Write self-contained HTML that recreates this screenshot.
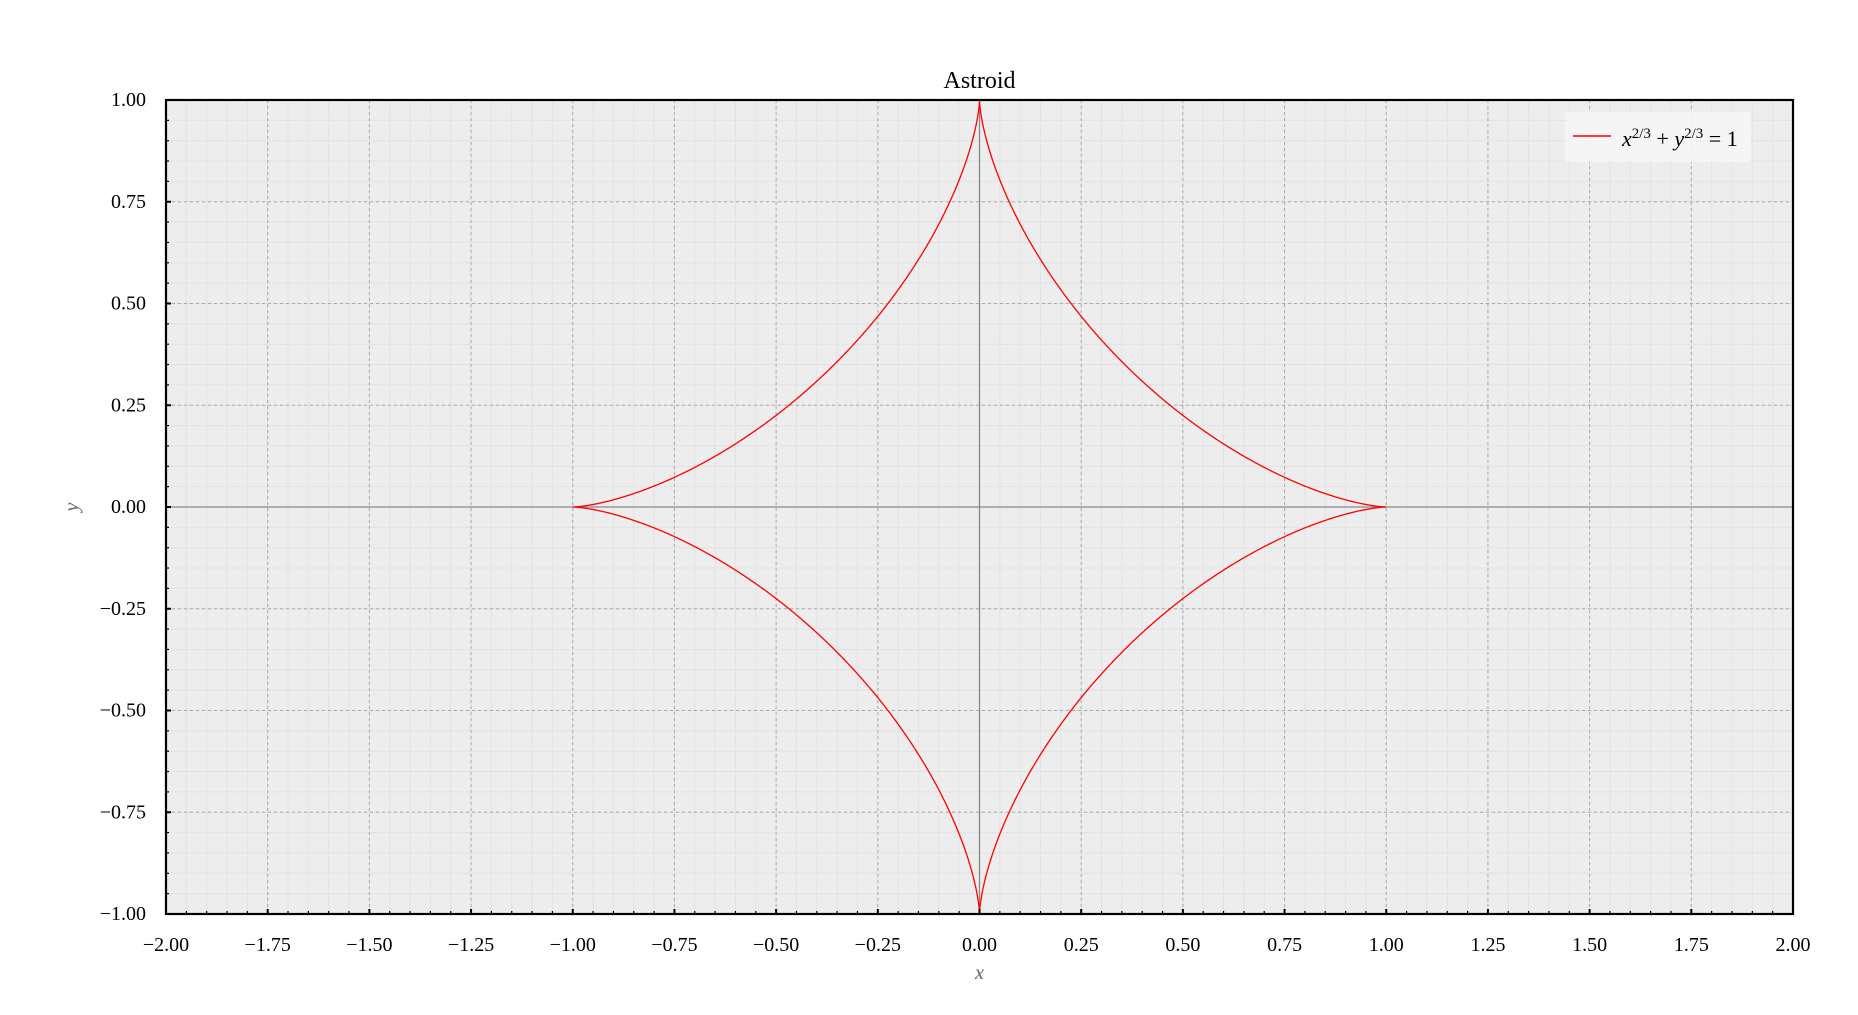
<!DOCTYPE html>
<html><head><meta charset="utf-8"><style>
html,body{margin:0;padding:0;background:#fff;}
svg{display:block;font-family:"Liberation Serif",serif;}
</style></head><body>
<svg id="chart" width="1858" height="1015" viewBox="0 0 1858 1015" xmlns="http://www.w3.org/2000/svg"></svg>
<script>
const xTicks = [-2.00,-1.75,-1.50,-1.25,-1.00,-0.75,-0.50,-0.25,0.00,0.25,0.50,0.75,1.00,1.25,1.50,1.75,2.00];
const yTicks = [-1.00,-0.75,-0.50,-0.25,0.00,0.25,0.50,0.75,1.00];
const xDomain = [-2, 2];
const yDomain = [-1, 1];
const astroidA = [1];
const legendLabels = ["x^{2/3}+y^{2/3}=1"];

const L=166,R=1793,T=100,B=914;
const NS="http://www.w3.org/2000/svg";
const svg=document.getElementById('chart');
function sx(v){return L+(v-xDomain[0])/(xDomain[1]-xDomain[0])*(R-L);}
function sy(v){return B-(v-yDomain[0])/(yDomain[1]-yDomain[0])*(B-T);}
function mk(tag,attrs,parent){const e=document.createElementNS(NS,tag);for(const k in attrs)e.setAttribute(k,attrs[k]);(parent||svg).appendChild(e);return e;}
function fmt(v){return (v<0?'\u2212':'')+Math.abs(v).toFixed(2);}

const bg=mk('rect',{x:L,y:T,width:R-L,height:B-T,fill:'#ededed'});



const gMinor=mk('g',{stroke:'#e2e2e2','stroke-width':1});


for(let i=0;i<=80;i++){const v=xDomain[0]+i*0.05;const x=sx(v);mk('line',{x1:x,x2:x,y1:T,y2:B},gMinor);}
for(let i=0;i<=40;i++){const v=yDomain[0]+i*0.05;const y=sy(v);mk('line',{x1:L,x2:R,y1:y,y2:y},gMinor);}
const gMajor=mk('g',{stroke:'#aaaaaa','stroke-width':1,'stroke-dasharray':'3,3'});


xTicks.forEach(v=>{const x=sx(v);mk('line',{x1:x,x2:x,y1:T,y2:B},gMajor);});
yTicks.forEach(v=>{const y=sy(v);mk('line',{x1:L,x2:R,y1:y,y2:y},gMajor);});
const zx=mk('line',{x1:sx(0),x2:sx(0),y1:T,y2:B,stroke:'#888','stroke-width':1.3});


const zy=mk('line',{x1:L,x2:R,y1:sy(0),y2:sy(0),stroke:'#888','stroke-width':1.3});



const a=astroidA[0];
let d='';
for(let i=0;i<=2000;i++){const t=i/2000*2*Math.PI;const c=Math.cos(t),s=Math.sin(t);
  const x=a*c*c*c,y=a*s*s*s;d+=(i?'L':'M')+sx(x).toFixed(2)+','+sy(y).toFixed(2);}
const curve=mk('path',{d:d,fill:'none',stroke:'#ff0000','stroke-width':1.3});



const frame=mk('rect',{x:L,y:T,width:R-L,height:B-T,fill:'none',stroke:'#000','stroke-width':2.2});



const gT=mk('g',{stroke:'#000'});


for(let i=0;i<=80;i++){const x=sx(xDomain[0]+i*0.05);const maj=i%5==0;mk('line',{x1:x,x2:x,y1:B,y2:B-(maj?5:3),'stroke-width':maj?2:1.2},gT);}
for(let i=0;i<=40;i++){const y=sy(yDomain[0]+i*0.05);const maj=i%5==0;mk('line',{x1:L,x2:L+(maj?5:3),y1:y,y2:y,'stroke-width':maj?2:1.2},gT);}

xTicks.forEach(v=>{const t=mk('text',{x:sx(v),y:951,'font-size':20,'text-anchor':'middle',fill:'#000'});t.textContent=fmt(v);
  
  });
yTicks.forEach(v=>{const t=mk('text',{x:146,y:sy(v)+6,'font-size':20,'text-anchor':'end',fill:'#000'});t.textContent=fmt(v);
  
  });

const title=mk('text',{x:sx(0),y:88,'font-size':24,'text-anchor':'middle',fill:'#000'});title.textContent='Astroid';


const xl=mk('text',{x:sx(0),y:979,'font-size':20,'font-style':'italic','text-anchor':'middle',fill:'#666'});xl.textContent='x';


const yl=mk('text',{x:0,y:0,'font-size':20,'font-style':'italic','text-anchor':'middle',fill:'#666',transform:'translate(78,507) rotate(-90)'});yl.textContent='y';



const lg=mk('g',{});


mk('rect',{x:1565,y:112,width:186,height:50,rx:3,fill:'#f5f5f5','fill-opacity':0.9},lg);
const ll=mk('line',{x1:1573,x2:1611,y1:136,y2:136,stroke:'#ff0000','stroke-width':1.5},lg);


const lt=mk('text',{x:1622,y:146,'font-size':22,fill:'#000'},lg);


lt.innerHTML='<tspan font-style="italic">x</tspan><tspan font-size="15" dy="-8">2/3</tspan><tspan dy="8"> + </tspan><tspan font-style="italic">y</tspan><tspan font-size="15" dy="-8">2/3</tspan><tspan dy="8"> = 1</tspan>';
</script>
</body></html>
